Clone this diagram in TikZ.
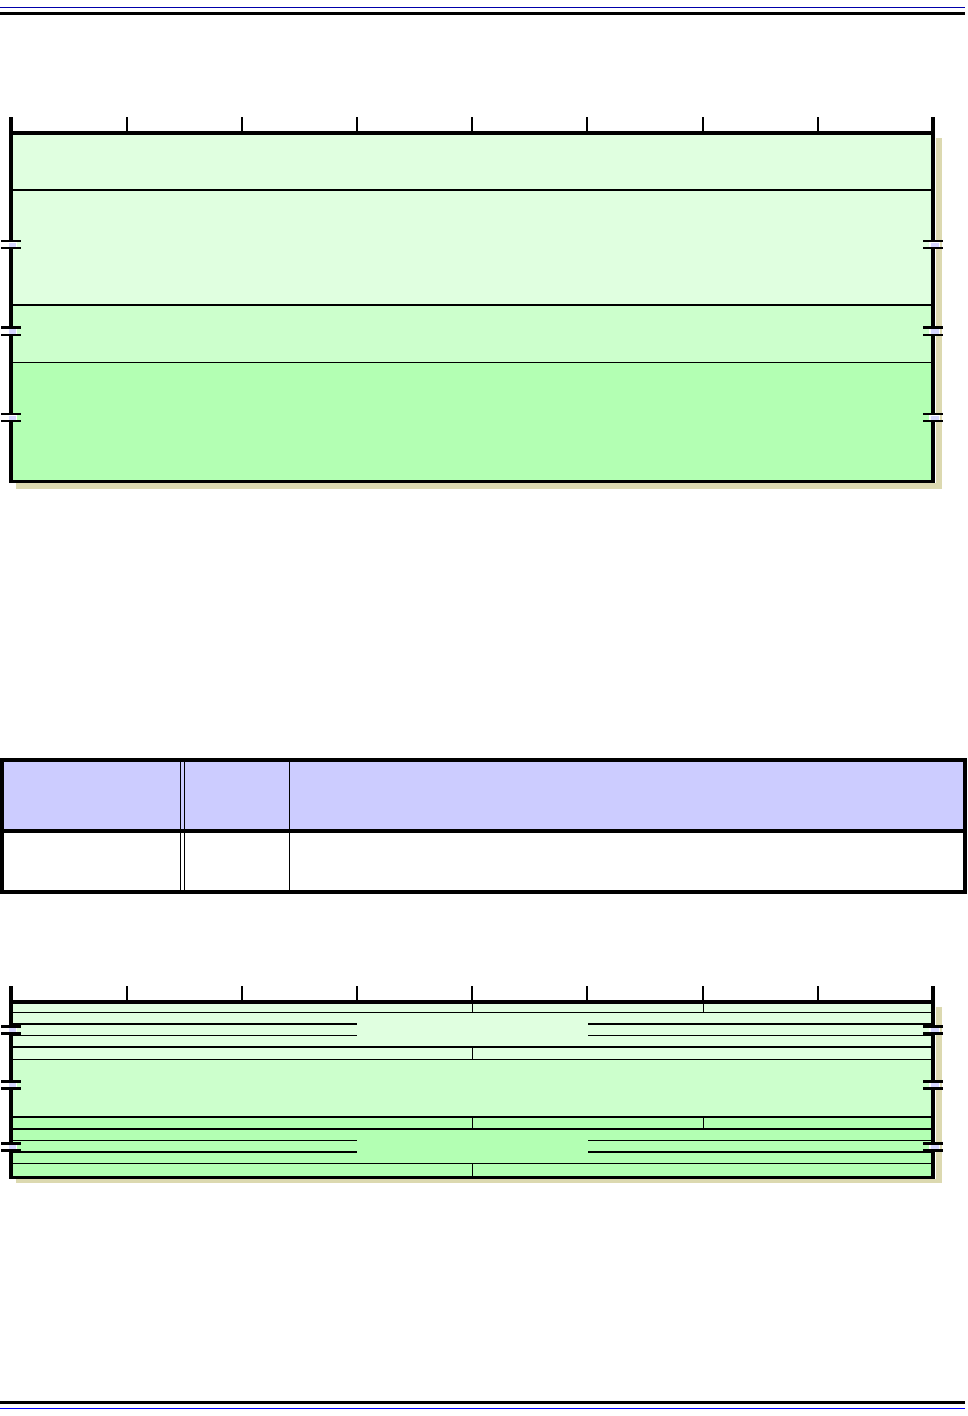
\documentclass[tikz,border=0pt]{standalone}
\definecolor{gA}{RGB}{224,255,224}
\definecolor{gB}{RGB}{204,255,204}
\definecolor{gC}{RGB}{179,255,179}
\definecolor{shadowc}{RGB}{220,217,176}
\definecolor{hdr}{RGB}{204,204,255}
\definecolor{gapc}{RGB}{214,214,255}
\definecolor{blueA}{RGB}{0,0,170}
\begin{document}
\begin{tikzpicture}[x=1pt,y=-1pt,
  border/.style={line width=3.2pt},
  thick2/.style={line width=2pt},
  thin1/.style={line width=1pt},
  tickln/.style={line width=2.2pt},
  barln/.style={line width=2.6pt},
  shadowfill/.style={fill=shadowc,draw=none}]
\useasboundingbox (0,0) rectangle (967,1416);
% page rules
\draw[blueA,line width=1pt] (0,7) -- (965,7);
\draw[line width=3pt] (0,13.5) -- (965,13.5);
\draw[line width=3pt] (0,1402.5) -- (965,1402.5);
\draw[blue,line width=1pt] (0,1408.5) -- (965,1408.5);

% ===== Diagram 1 =====
\fill[shadowc] (936,138) rectangle (942,489);
\fill[shadowc] (16,483) rectangle (942,489);
\fill[gA] (11,133) rectangle (933,304.5);
\fill[gB] (11,304.5) rectangle (933,362);
\fill[gC] (11,362) rectangle (933,481.5);
\draw[thick2] (11,189.5) -- (933,189.5);
\draw[thick2] (11,304.5) -- (933,304.5);
\draw[thin1] (11,362) -- (933,362);
\draw[border] (11,117) -- (11,481.5) -- (933,481.5) -- (933,117);
\draw[border] (11,133) -- (933,133);
\foreach \x in {127,242,357,472,587,703,818}
  \draw[tickln] (\x,117) -- (\x,133);
\foreach \ya/\yb in {241/248,327.5/335,414/421}{
  \fill[white] (7,\ya) rectangle (17,\yb);
  \fill[gapc] (9,\ya+1.5) rectangle (16,\yb-1.5);
  \fill[white] (929,\ya) rectangle (940,\yb);
  \fill[gapc] (931,\ya+1.5) rectangle (939,\yb-1.5);
  \draw[barln] (1,\ya) -- (21,\ya);
  \draw[barln] (1,\yb) -- (21,\yb);
  \draw[barln] (923,\ya) -- (943,\ya);
  \draw[barln] (923,\yb) -- (943,\yb);
}

% ===== Table =====
\fill[hdr] (2,760) rectangle (965,831);
\draw[thin1] (180,760) -- (180,891);
\draw[thin1] (184.5,760) -- (184.5,891);
\draw[line width=1.5pt] (289.5,760) -- (289.5,891);
\draw[line width=4pt] (2,831) -- (965,831);
\draw[line width=4pt] (2,760) rectangle (965,891.5);

% ===== Diagram 2 =====
\fill[shadowc] (936,1007) rectangle (942,1183);
\fill[shadowc] (16,1179) rectangle (942,1183);
\fill[gA] (11,1002) rectangle (933,1059.5);
\fill[gB] (11,1059.5) rectangle (933,1116.5);
\fill[gC] (11,1116.5) rectangle (933,1177.5);
% full-width lines
\draw[thin1] (11,1012.5) -- (933,1012.5);
\draw[thick2] (11,1047) -- (933,1047);
\draw[thin1] (11,1059.5) -- (933,1059.5);
\draw[thick2] (11,1116.5) -- (933,1116.5);
\draw[thick2] (11,1128.5) -- (933,1128.5);
\draw[thin1] (11,1163.5) -- (933,1163.5);
% partial lines
\foreach \y/\w in {1024/1.8pt,1035.5/1pt,1140.5/1pt,1152/1.8pt}{
  \draw[line width=\w] (11,\y) -- (357,\y);
  \draw[line width=\w] (588,\y) -- (933,\y);
}
% short vertical dividers
\draw[thin1] (472.5,1002) -- (472.5,1012.5);
\draw[thin1] (703,1002) -- (703,1012.5);
\draw[thin1] (472.5,1047) -- (472.5,1059.5);
\draw[thin1] (472.5,1116.5) -- (472.5,1128.5);
\draw[thin1] (703,1116.5) -- (703,1128.5);
\draw[thin1] (472.5,1163.5) -- (472.5,1177.5);
\draw[border] (11,986) -- (11,1177.5) -- (933,1177.5) -- (933,986);
\draw[border] (11,1002) -- (933,1002);
\foreach \x in {127,242,357,472,587,703,818}
  \draw[tickln] (\x,986) -- (\x,1002);
\foreach \ya/\yb in {1026.5/1033.5,1081.5/1088.5,1143.5/1150.5}{
  \fill[white] (7,\ya) rectangle (17,\yb);
  \fill[gapc] (9,\ya+1.5) rectangle (16,\yb-1.5);
  \fill[white] (929,\ya) rectangle (940,\yb);
  \fill[gapc] (931,\ya+1.5) rectangle (939,\yb-1.5);
  \draw[barln] (1,\ya) -- (21,\ya);
  \draw[barln] (1,\yb) -- (21,\yb);
  \draw[barln] (923,\ya) -- (943,\ya);
  \draw[barln] (923,\yb) -- (943,\yb);
}
\end{tikzpicture}
\end{document}
